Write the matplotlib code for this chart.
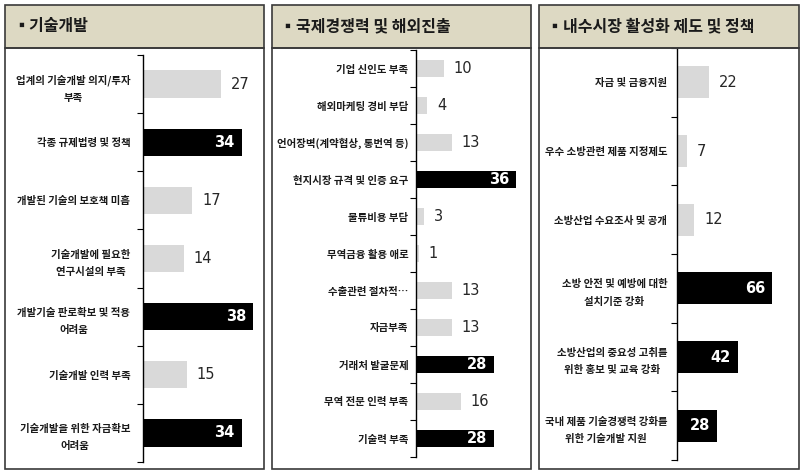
import matplotlib
matplotlib.use("Agg")
import matplotlib.pyplot as plt
from matplotlib.patches import Rectangle

plt.rcParams['font.family'] = ['Noto Sans CJK KR', 'DejaVu Sans']

# panel 1: 기술개발
tech_title = "▪기술개발"
tech_labels = ["업계의 기술개발 의지/투자\n부족", "각종 규제법령 및 정책", "개발된 기술의 보호책 미흡",
               "기술개발에 필요한\n연구시설의 부족", "개발기술 판로확보 및 적용\n어려움",
               "기술개발 인력 부족", "기술개발을 위한 자금확보\n어려움"]
tech_values = [27, 34, 17, 14, 38, 15, 34]
tech_dark = [False, True, False, False, True, False, True]

# panel 2: 국제경쟁력 및 해외진출
intl_title = "▪국제경쟁력 및 해외진출"
intl_labels = ["기업 신인도 부족", "해외마케팅 경비 부담", "언어장벽(계약협상, 통번역 등)",
               "현지시장 규격 및 인증 요구", "물류비용 부담", "무역금융 활용 애로",
               "수출관련 절차적…", "자금부족", "거래처 발굴문제", "무역 전문 인력 부족", "기술력 부족"]
intl_values = [10, 4, 13, 36, 3, 1, 13, 13, 28, 16, 28]
intl_dark = [False, False, False, True, False, False, False, False, True, False, True]

# panel 3: 내수시장 활성화 제도 및 정책
dom_title = "▪내수시장 활성화 제도 및 정책"
dom_labels = ["자금 및 금융지원", "우수 소방관련 제품 지정제도", "소방산업 수요조사 및 공개",
              "소방 안전 및 예방에 대한\n설치기준 강화", "소방산업의 중요성 고취를\n위한 홍보 및 교육 강화",
              "국내 제품 기술경쟁력 강화를\n위한 기술개발 지원"]
dom_values = [22, 7, 12, 66, 42, 28]
dom_dark = [False, False, False, True, True, True]

W, H = 804, 474
fig = plt.figure(figsize=(W / 100, H / 100), dpi=100)


def fx(x):
    return x / W


def fy(y):
    return 1 - y / H


HEADER = "#ddd9c3"
EDGE = "#3a3a3a"
LIGHT = "#d9d9d9"

panels = [
    # title, labels, values, dark, box (x0, x1), axis (x0, x1, y0, y1), xmax, label pad
    (tech_title, tech_labels, tech_values, tech_dark, (5, 264), (143, 262, 55, 462), 41, 9),
    (intl_title, intl_labels, intl_values, intl_dark, (272, 531), (416, 529, 50, 457), 40.6, 5.5),
    (dom_title, dom_labels, dom_values, dom_dark, (539, 799), (677, 797, 48, 460), 83, 7),
]

for title, labels, values, dark, (bx0, bx1), (ax0, ax1, ay0, ay1), xmax, lpad in panels:
    top, hdr, bot = 5, 48, 469
    fig.patches.append(Rectangle((fx(bx0), fy(hdr)), fx(bx1 - bx0), (hdr - top) / H,
                                 transform=fig.transFigure, facecolor=HEADER,
                                 edgecolor=EDGE, lw=1.2))
    fig.patches.append(Rectangle((fx(bx0), fy(bot)), fx(bx1 - bx0), (bot - hdr) / H,
                                 transform=fig.transFigure, facecolor="none",
                                 edgecolor=EDGE, lw=1.2))
    fig.text(fx(bx0 + 8), fy((top + hdr) / 2), title, fontsize=11.5, fontweight="bold",
             va="center", ha="left", color="#1a1a1a")

    ax = fig.add_axes([fx(ax0), fy(ay1), fx(ax1 - ax0), (ay1 - ay0) / H])
    n = len(values)
    pos = list(range(n))
    colors = ["black" if d else LIGHT for d in dark]
    bars = ax.barh(pos, values, height=0.47, color=colors)
    ax.set_xlim(0, xmax)
    ax.set_ylim(n - 0.5, -0.5)
    for s in ["top", "right", "bottom"]:
        ax.spines[s].set_visible(False)
    ax.spines["left"].set_color("black")
    ax.spines["left"].set_linewidth(1.0)
    ax.set_xticks([])
    ax.set_yticks([i - 0.5 for i in range(n + 1)])
    ax.set_yticklabels([])
    ax.tick_params(axis="y", which="major", length=4, width=0.8, direction="out")
    ax.set_yticks(pos, labels, minor=True)
    ax.tick_params(axis="y", which="minor", length=0, pad=lpad, labelsize=7.5,
                   labelcolor="#1a1a1a")
    for t in ax.get_yticklabels(minor=True):
        t.set_multialignment("center")
        t.set_fontweight("bold")
        t.set_linespacing(1.9)
    for b, v, d in zip(bars, values, dark):
        y = b.get_y() + b.get_height() / 2
        if d:
            ax.annotate(str(v), (v, y), xytext=(-5, 0), textcoords="offset points",
                        ha="right", va="center", color="white", fontsize=10.5,
                        fontweight="bold", family=["Liberation Sans Narrow", "DejaVu Sans"])
        else:
            ax.annotate(str(v), (v, y), xytext=(7, 0), textcoords="offset points",
                        ha="left", va="center", color="#262626", fontsize=10.5,
                        family=["Liberation Sans Narrow", "DejaVu Sans"])

fig.savefig("out.png", dpi=100)
